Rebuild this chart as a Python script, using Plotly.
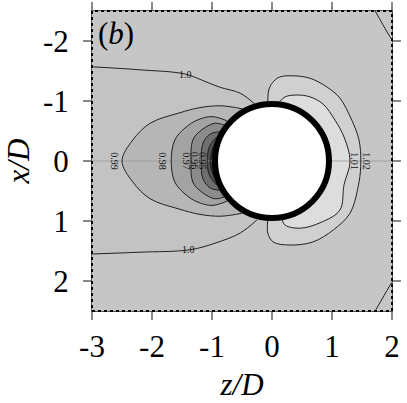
import plotly.graph_objects as go

# axis ticks
z_ticks = [-3, -2, -1, 0, 1, 2]
x_ticks = [-2, -1, 0, 1, 2]

# contour lines; each list runs circle -> vertex -> circle
# (the 1.0 line on the left runs from the left edge round to the circle)
c100_top_z = [-3.0, -2.2, -1.45, -1.1, -0.87, -0.53, -0.3]
c100_top_x = [-1.57, -1.52, -1.45, -1.32, -1.23, -1.13, -0.96]
c100_bot_z = [-3.0, -2.2, -1.37, -0.95, -0.53, -0.25]
c100_bot_x = [1.55, 1.52, 1.48, 1.37, 1.2, 0.98]

c099_z = [-0.5, -0.85, -1.2, -1.55, -2.03, -2.32, -2.5, -2.32, -2.03, -1.55, -1.2, -0.85, -0.5]
c099_x = [-0.87, -0.92, -0.89, -0.8, -0.63, -0.35, 0.0, 0.35, 0.63, 0.8, 0.89, 0.92, 0.87]
c098_z = [-0.75, -1.0, -1.25, -1.45, -1.62, -1.68, -1.62, -1.45, -1.25, -1.0, -0.75]
c098_x = [-0.67, -0.74, -0.68, -0.55, -0.35, 0.0, 0.35, 0.55, 0.68, 0.74, 0.67]
c097_z = [-0.8, -0.95, -1.17, -1.32, -1.35, -1.32, -1.17, -0.95, -0.8]
c097_x = [-0.6, -0.63, -0.52, -0.35, 0.0, 0.35, 0.52, 0.63, 0.6]
c096_z = [-0.87, -1.03, -1.15, -1.18, -1.15, -1.03, -0.87]
c096_x = [-0.49, -0.45, -0.3, 0.0, 0.3, 0.45, 0.49]
c095_z = [-0.92, -0.97, -1.05, -1.08, -1.05, -0.97, -0.92]
c095_x = [-0.4, -0.35, -0.22, 0.0, 0.22, 0.35, 0.4]
c094_z = [-0.95, -1.0, -1.03, -1.0, -0.95]
c094_x = [-0.3, -0.18, 0.0, 0.18, 0.3]

c101_z = [0.13, 0.22, 0.42, 0.63, 0.85, 1.05, 1.2, 1.3, 1.2, 1.13, 0.8, 0.47, 0.22, 0.17]
c101_x = [-0.99, -1.07, -1.1, -1.07, -0.95, -0.68, -0.4, 0.0, 0.4, 0.82, 1.03, 1.12, 1.07, 0.98]
c102_z = [-0.07, -0.05, 0.03, 0.13, 0.35, 0.63, 0.92, 1.13, 1.33, 1.45, 1.48,
          1.45, 1.3, 1.02, 0.68, 0.3, 0.02, -0.07, -0.07]
c102_x = [-1.0, -1.2, -1.33, -1.4, -1.42, -1.38, -1.23, -1.05, -0.68, -0.35, 0.0,
          0.35, 0.87, 1.15, 1.35, 1.4, 1.35, 1.2, 0.98]

corner_top_z = [1.72, 1.93, 2.0]
corner_top_x = [-2.5, -2.13, -2.02]
corner_bot_z = [1.72, 1.95, 2.0]
corner_bot_x = [2.5, 2.1, 2.02]

# contour labels: text, z, x, angle
label_text = ['1.0', '1.0', '0.99', '0.98', '0.97', '0.96', '0.95', '1.01', '1.02']
label_z = [-1.45, -1.4, -2.62, -1.82, -1.42, -1.28, -1.15, 1.38, 1.58]
label_x = [-1.45, 1.48, 0.0, 0.0, 0.0, 0.0, 0.0, 0.0, 0.0]
label_angle = [0, 0, 90, 90, 90, 90, 90, 90, 90]

SERIF = 'Liberation Serif, Times New Roman, serif'
BIG = dict(family=SERIF, size=31, color='black')

fig = go.Figure()

# filled bands, outermost first
c100_z = c100_top_z + c100_bot_z[::-1]
c100_x = c100_top_x + c100_bot_x[::-1]
bands = [
    (c100_z, c100_x, '#c3c3c3'),
    (c099_z, c099_x, '#b6b6b6'),
    (c098_z, c098_x, '#a3a3a3'),
    (c097_z, c097_x, '#8c8c8c'),
    (c096_z, c096_x, '#6e6e6e'),
    (c095_z, c095_x, '#505050'),
    (c094_z, c094_x, '#2e2e2e'),
    (c102_z, c102_x, '#d0d0d0'),
    (c101_z, c101_x, '#dddddd'),
]
for bz, bx, col in bands:
    fig.add_trace(go.Scatter(x=bz, y=bx, mode='lines', fill='toself', fillcolor=col,
                             line=dict(width=0, shape='spline'), hoverinfo='skip', showlegend=False))

# faint centre line
fig.add_trace(go.Scatter(x=[z_ticks[0], z_ticks[-1]], y=[0, 0], mode='lines',
                         line=dict(color='#9a9a9a', width=0.8), showlegend=False))

# contour lines
lines = [
    (c100_top_z, c100_top_x), (c100_bot_z, c100_bot_x),
    (c099_z, c099_x), (c098_z, c098_x), (c097_z, c097_x),
    (c096_z, c096_x), (c095_z, c095_x), (c094_z, c094_x),
    (c101_z, c101_x), (c102_z, c102_x),
    (corner_top_z, corner_top_x), (corner_bot_z, corner_bot_x),
]
for lz, lx in lines:
    fig.add_trace(go.Scatter(x=lz, y=lx, mode='lines', line=dict(color='#222222', width=1, shape='spline'),
                             hoverinfo='skip', showlegend=False))

for t, lz, lx, ang in zip(label_text, label_z, label_x, label_angle):
    fig.add_annotation(x=lz, y=lx, text=t, textangle=ang, showarrow=False,
                       font=dict(family=SERIF, size=10, color='#111111'))

# the body: white disc with black rim
fig.add_shape(type='circle', x0=-0.95, x1=0.95, y0=-0.95, y1=0.95,
              line=dict(color='black', width=6), fillcolor='white', layer='above')

# dotted frame of the data region
fig.add_shape(type='rect', xref='paper', yref='paper', x0=0, x1=1, y0=0, y1=1,
              line=dict(color='black', width=2, dash='dot'), layer='above')

fig.add_annotation(xref='paper', yref='paper', x=0.012, y=0.99, xanchor='left', yanchor='top',
                   text='(<i>b</i>)', showarrow=False, font=BIG)

fig.update_xaxes(range=[-3, 2], tickvals=z_ticks, ticktext=[str(v) for v in z_ticks],
                 tickfont=BIG, ticks='outside', ticklen=8, tickwidth=1.5, tickcolor='#888888',
                 showline=True, linecolor='#555555', mirror='ticks', showgrid=False, zeroline=False,
                 automargin=False, title=dict(text='<i>z/D</i>', font=BIG, standoff=10))
fig.update_yaxes(range=[2.5, -2.5], tickvals=x_ticks, ticktext=[str(v) for v in x_ticks],
                 tickfont=BIG, ticks='outside', ticklen=8, tickwidth=1.5, tickcolor='#888888',
                 showline=True, linecolor='#555555', mirror='ticks', showgrid=False, zeroline=False,
                 ticklabelstandoff=8, automargin=False,
                 title=dict(text='<i>x/D</i>', font=BIG, standoff=4))

fig.update_layout(width=407, height=403, margin=dict(l=92, r=15, t=11, b=92),
                  plot_bgcolor='#c6c6c6', paper_bgcolor='white', font=BIG)

# drop the browser's default page margin so the figure sits at the window corner
fig.write_html("out.html", config={'displayModeBar': False},
               post_script="document.body.style.margin='0';")
